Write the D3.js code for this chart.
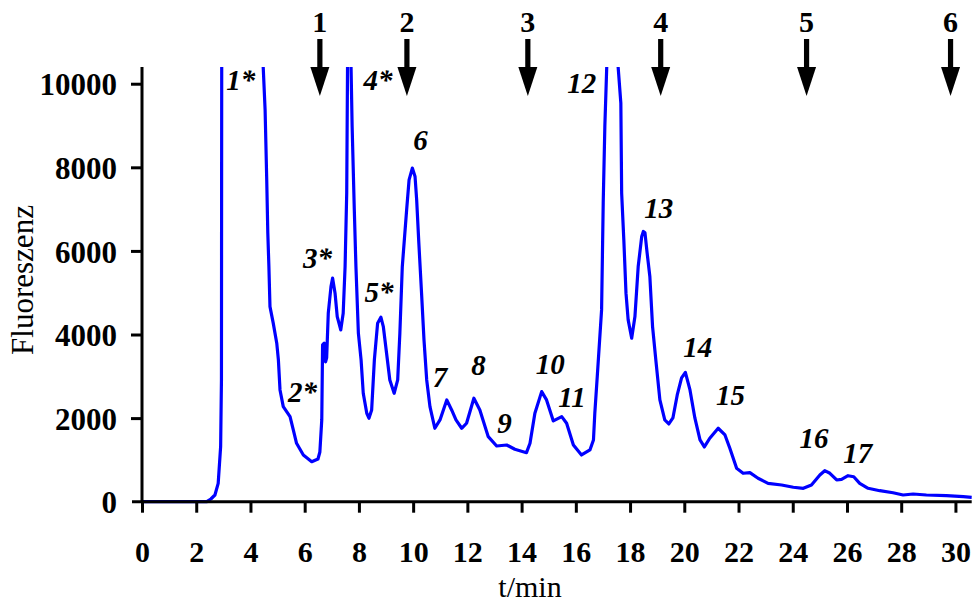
<!DOCTYPE html>
<html>
<head>
<meta charset="utf-8">
<script src="https://cdn.jsdelivr.net/npm/d3@7"></script>
<style>
  html, body { margin: 0; padding: 0; background: #fff; }
  svg { display: block; }
  text { font-family: "Liberation Serif", "Times New Roman", serif; fill: #000; }
</style>
</head>
<body>
<svg id="chart" width="975" height="605"></svg>
<script>
// ---- data ----
const timeMin = [0, 1, 2, 2.39, 2.54, 2.69, 2.81, 2.90, 2.93, 2.94, 3.7, 4.47, 4.54, 4.60, 4.64, 4.68, 4.72, 4.84, 4.97, 5.03, 5.09, 5.21, 5.46, 5.58, 5.70, 5.95, 6.26, 6.49, 6.56, 6.63, 6.66, 6.72, 6.77, 6.81, 6.87, 6.97, 7.03, 7.12, 7.20, 7.33, 7.42, 7.49, 7.55, 7.58, 7.65, 7.71, 7.75, 7.83, 7.89, 7.98, 8.08, 8.16, 8.29, 8.37, 8.47, 8.57, 8.69, 8.81, 8.90, 9.02, 9.14, 9.30, 9.43, 9.51, 9.60, 9.76, 9.85, 9.97, 10.07, 10.13, 10.21, 10.31, 10.40, 10.50, 10.62, 10.80, 10.99, 11.24, 11.42, 11.58, 11.79, 11.97, 12.24, 12.46, 12.77, 13.08, 13.45, 13.75, 14.18, 14.31, 14.49, 14.74, 14.92, 15.17, 15.48, 15.66, 15.91, 16.21, 16.52, 16.65, 16.70, 16.79, 16.95, 17.01, 17.07, 17.14, 17.35, 17.56, 17.66, 17.69, 17.77, 17.85, 17.93, 18.06, 18.18, 18.30, 18.43, 18.49, 18.55, 18.63, 18.73, 18.83, 18.95, 19.10, 19.28, 19.43, 19.58, 19.74, 19.90, 20.04, 20.21, 20.39, 20.58, 20.74, 20.94, 21.25, 21.50, 21.68, 21.93, 22.17, 22.42, 22.72, 23.09, 23.59, 24.02, 24.39, 24.69, 25.00, 25.18, 25.37, 25.62, 25.80, 26.04, 26.25, 26.47, 26.78, 27.21, 27.70, 28.07, 28.44, 28.93, 29.67, 30.29, 30.60];
const fluorescence = [0, 0, 0, 0, 65, 160, 440, 1320, 2910, 10400, 30000, 10400, 9377, 7701, 6426, 5626, 4668, 4271, 3792, 3392, 2674, 2274, 2035, 1716, 1398, 1118, 958, 1022, 1190, 1956, 3751, 3792, 3344, 3440, 4510, 5147, 5348, 4989, 4429, 4110, 4510, 5626, 7383, 10400, 16000, 10400, 8978, 6983, 5626, 4031, 3392, 2595, 2116, 1997, 2195, 3392, 4271, 4414, 4190, 3553, 2913, 2595, 2913, 4031, 5626, 6983, 7701, 7981, 7780, 7223, 6186, 4989, 3871, 2913, 2274, 1757, 1956, 2435, 2195, 1956, 1757, 1877, 2475, 2195, 1556, 1333, 1357, 1254, 1173, 1398, 2116, 2633, 2435, 1932, 2035, 1877, 1357, 1118, 1238, 1477, 2116, 2993, 4589, 7144, 8978, 10400, 20000, 10400, 9538, 7383, 6265, 4989, 4350, 3912, 4429, 5626, 6344, 6464, 6433, 5947, 5387, 4190, 3392, 2435, 1956, 1860, 2004, 2554, 2961, 3093, 2674, 2004, 1477, 1310, 1518, 1757, 1597, 1278, 800, 680, 694, 560, 440, 400, 345, 321, 400, 639, 742, 680, 520, 536, 622, 598, 440, 321, 263, 215, 160, 184, 160, 144, 120, 105];

const peakNames = ["1*", "2*", "3*", "4*", "5*", "6", "7", "8", "9", "10", "11", "12", "13", "14", "15", "16", "17"];
const peakLabelTime = [3.64, 5.92, 6.47, 8.70, 8.74, 10.27, 10.99, 12.41, 13.37, 15.06, 15.86, 16.22, 19.06, 20.50, 21.70, 24.78, 26.40];
const peakLabelValue = [9855, 2387, 5595, 9855, 4781, 8420, 2746, 3033, 1645, 3057, 2267, 9783, 6792, 3464, 2315, 1286, 927];

const fractionNames = ["1", "2", "3", "4", "5", "6"];
const fractionTime = [6.56, 9.77, 14.23, 19.13, 24.51, 29.82];

const xTicks = [0, 2, 4, 6, 8, 10, 12, 14, 16, 18, 20, 22, 24, 26, 28, 30];
const yTicks = [0, 2000, 4000, 6000, 8000, 10000];
const xDomain = [0, 30.6];
const yDomain = [0, 10400];
const xTitle = "t/min";
const yTitle = "Fluoreszenz";

// ---- drawing ----
const svg = d3.select("#chart");
const margin = { left: 142, top: 67, right: 3.3, bottom: 103.3 };
const W = 975, H = 605;
const x = d3.scaleLinear().domain(xDomain).range([margin.left, W - margin.right]);
const y = d3.scaleLinear().domain(yDomain).range([H - margin.bottom, margin.top]);

svg.append("defs").append("clipPath").attr("id", "plotclip")
  .append("rect")
  .attr("x", x(xDomain[0]) - 2).attr("y", y(yDomain[1]))
  .attr("width", x(xDomain[1]) - x(xDomain[0]) + 4)
  .attr("height", y(yDomain[0]) - y(yDomain[1]) + 5);

// data line
const pts = timeMin.map((t, i) => [t, fluorescence[i]]);
svg.append("path")
  .datum(pts)
  .attr("clip-path", "url(#plotclip)")
  .attr("fill", "none")
  .attr("stroke", "#0000ff")
  .attr("stroke-width", 3.2)
  .attr("stroke-linejoin", "round")
  .attr("d", d3.line().x(d => x(d[0])).y(d => y(d[1])).curve(d3.curveLinear));

// x axis
const gx = svg.append("g")
  .attr("transform", `translate(0,${y(0)})`)
  .call(d3.axisBottom(x).tickValues(xTicks).tickSize(11).tickSizeOuter(0).tickFormat(d3.format("d")));
gx.select(".domain").attr("stroke", "#000").attr("stroke-width", 3)
  .attr("d", `M${x(xDomain[0]) - 10},0H${x(xDomain[1])}`);
gx.selectAll(".tick line").attr("stroke", "#000").attr("stroke-width", 3);
gx.selectAll(".tick text")
  .attr("y", 60).attr("dy", 0)
  .style("font-family", '"Liberation Serif", "Times New Roman", serif')
  .style("font-size", "30px").style("font-weight", "bold").attr("fill", "#000");

// y axis
const gy = svg.append("g")
  .attr("transform", `translate(${x(0)},0)`)
  .call(d3.axisLeft(y).tickValues(yTicks).tickSize(11).tickSizeOuter(0).tickFormat(d3.format("d")));
gy.select(".domain").attr("stroke", "#000").attr("stroke-width", 3)
  .attr("d", `M0,${y(yDomain[1])}V${y(0)}`);
gy.selectAll(".tick line").attr("stroke", "#000").attr("stroke-width", 3);
gy.selectAll(".tick line").filter(d => d === 0).remove();
gy.selectAll(".tick text")
  .attr("x", -25).attr("dy", "0.36em")
  .style("font-family", '"Liberation Serif", "Times New Roman", serif')
  .style("font-size", "31px").style("font-weight", "bold").attr("fill", "#000");

// axis titles
svg.append("text")
  .attr("x", 530).attr("y", 597)
  .attr("text-anchor", "middle")
  .style("font-size", "30px")
  .text(xTitle);
svg.append("text")
  .attr("transform", `translate(33,280) rotate(-90)`)
  .attr("text-anchor", "middle")
  .style("font-size", "31px")
  .text(yTitle);

// peak labels
svg.append("g").selectAll("text")
  .data(peakNames)
  .join("text")
  .attr("x", (d, i) => x(peakLabelTime[i]))
  .attr("y", (d, i) => y(peakLabelValue[i]))
  .attr("text-anchor", "middle")
  .style("font-size", "29px")
  .style("font-weight", "bold")
  .style("font-style", "italic")
  .text(d => d);

// fraction arrows
const arr = svg.append("g").selectAll("g")
  .data(fractionNames)
  .join("g")
  .attr("transform", (d, i) => `translate(${x(fractionTime[i])},0)`);
arr.append("text")
  .attr("x", 0).attr("y", 32)
  .attr("text-anchor", "middle")
  .style("font-size", "30px")
  .style("font-weight", "bold")
  .text(d => d);
arr.append("rect")
  .attr("x", -2.6).attr("y", 39).attr("width", 5.2).attr("height", 30)
  .attr("fill", "#000");
arr.append("path")
  .attr("d", "M-9.5,67L9.5,67L0,96Z")
  .attr("fill", "#000");
</script>
</body>
</html>
